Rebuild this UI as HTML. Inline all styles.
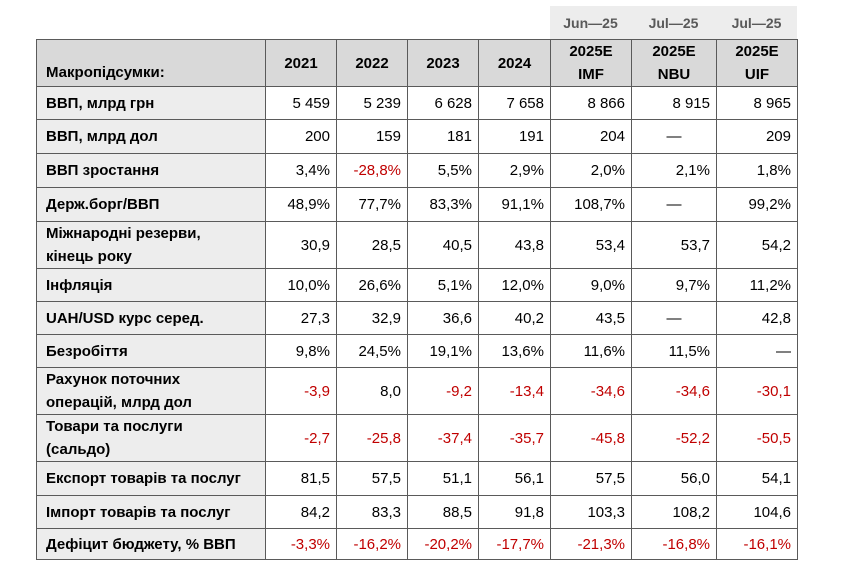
<!DOCTYPE html>
<html><head><meta charset="utf-8"><style>
body{margin:0;width:841px;height:578px;background:#fff;position:relative;overflow:hidden;font-family:"Liberation Sans",Arial,sans-serif;}
.top{position:absolute;left:550px;top:6px;width:247px;height:33px;background:#ededed;}
.top span{position:absolute;top:9px;font-size:14px;font-weight:bold;color:#595959;text-align:center;}
table{position:absolute;left:36px;top:39px;border-collapse:collapse;table-layout:fixed;}
td{border:1px solid #5a5a5a;padding:0 6px;font-size:15px;color:#000;text-align:right;line-height:23px;}
td.l{background:#ededed;font-weight:bold;text-align:left;padding-left:9px;}
tr.h td{background:#d9d9d9;font-weight:bold;text-align:center;}
tr.h td.l{text-align:left;vertical-align:bottom;padding-bottom:2px;}
.r{color:#c00000;}
</style></head><body>
<div class="top"><span style="left:0;width:81px">Jun—25</span><span style="left:81px;width:85px">Jul—25</span><span style="left:166px;width:81px">Jul—25</span></div>
<table>
<colgroup><col style="width:229px"><col style="width:71px"><col style="width:71px"><col style="width:71px"><col style="width:72px"><col style="width:81px"><col style="width:85px"><col style="width:81px"></colgroup>
<tr class="h" style="height:46px"><td class="l">Макропідсумки:</td><td>2021</td><td>2022</td><td>2023</td><td>2024</td><td>2025E<br>IMF</td><td>2025E<br>NBU</td><td>2025E<br>UIF</td></tr>
<tr style="height:33px"><td class="l">ВВП, млрд грн</td><td>5 459</td><td>5 239</td><td>6 628</td><td>7 658</td><td>8 866</td><td>8 915</td><td>8 965</td></tr>
<tr style="height:34px"><td class="l">ВВП, млрд дол</td><td>200</td><td>159</td><td>181</td><td>191</td><td>204</td><td style="text-align:center">—</td><td>209</td></tr>
<tr style="height:34px"><td class="l">ВВП зростання</td><td>3,4%</td><td class="r">-28,8%</td><td>5,5%</td><td>2,9%</td><td>2,0%</td><td>2,1%</td><td>1,8%</td></tr>
<tr style="height:34px"><td class="l">Держ.борг/ВВП</td><td>48,9%</td><td>77,7%</td><td>83,3%</td><td>91,1%</td><td>108,7%</td><td style="text-align:center">—</td><td>99,2%</td></tr>
<tr style="height:47px"><td class="l">Міжнародні резерви,<br>кінець року</td><td>30,9</td><td>28,5</td><td>40,5</td><td>43,8</td><td>53,4</td><td>53,7</td><td>54,2</td></tr>
<tr style="height:33px"><td class="l">Інфляція</td><td>10,0%</td><td>26,6%</td><td>5,1%</td><td>12,0%</td><td>9,0%</td><td>9,7%</td><td>11,2%</td></tr>
<tr style="height:33px"><td class="l">UAH/USD курс серед.</td><td>27,3</td><td>32,9</td><td>36,6</td><td>40,2</td><td>43,5</td><td style="text-align:center">—</td><td>42,8</td></tr>
<tr style="height:33px"><td class="l">Безробіття</td><td>9,8%</td><td>24,5%</td><td>19,1%</td><td>13,6%</td><td>11,6%</td><td>11,5%</td><td>—</td></tr>
<tr style="height:46px"><td class="l">Рахунок поточних<br>операцій, млрд дол</td><td class="r">-3,9</td><td>8,0</td><td class="r">-9,2</td><td class="r">-13,4</td><td class="r">-34,6</td><td class="r">-34,6</td><td class="r">-30,1</td></tr>
<tr style="height:46px"><td class="l">Товари та послуги<br>(сальдо)</td><td class="r">-2,7</td><td class="r">-25,8</td><td class="r">-37,4</td><td class="r">-35,7</td><td class="r">-45,8</td><td class="r">-52,2</td><td class="r">-50,5</td></tr>
<tr style="height:34px"><td class="l">Експорт товарів та послуг</td><td>81,5</td><td>57,5</td><td>51,1</td><td>56,1</td><td>57,5</td><td>56,0</td><td>54,1</td></tr>
<tr style="height:33px"><td class="l">Імпорт товарів та послуг</td><td>84,2</td><td>83,3</td><td>88,5</td><td>91,8</td><td>103,3</td><td>108,2</td><td>104,6</td></tr>
<tr style="height:31px"><td class="l">Дефіцит бюджету, % ВВП</td><td class="r">-3,3%</td><td class="r">-16,2%</td><td class="r">-20,2%</td><td class="r">-17,7%</td><td class="r">-21,3%</td><td class="r">-16,8%</td><td class="r">-16,1%</td></tr>
</table>
</body></html>
